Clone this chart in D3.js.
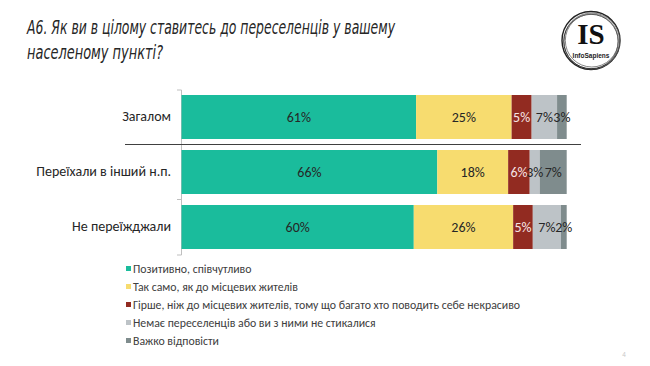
<!DOCTYPE html>
<html>
<head>
<meta charset="utf-8">
<title>A6</title>
<script src="https://d3js.org/d3.v7.min.js"></script>
<style>
  body { margin: 0; background: #fff; }
  text { font-family: Carlito, Lato, "Liberation Sans", sans-serif; }
</style>
</head>
<body>
<div id="chart"></div>
<script>
// categories (rows) and answer options
var categories = ["Загалом", "Переїхали в інший н.п.", "Не переїжджали"];
var series = [
  "Позитивно, співчутливо",
  "Так само, як до місцевих жителів",
  "Гірше, ніж до місцевих жителів, тому що багато хто поводить себе некрасиво",
  "Немає переселенців або ви з ними не стикалися",
  "Важко відповісти"
];
// shares per row (%)
var positive  = [60.9, 66.4, 60.3];
var same      = [24.8, 18.4, 25.8];
var worse     = [5.2, 5.6, 5.1];
var noContact = [6.6, 2.6, 7.3];
var hard      = [2.5, 7.0, 1.5];
var colors = ["#1abc9c", "#f7dc6f", "#922b21", "#bdc3c7", "#7f8c8d"];

var W = 650, H = 366;
var svg = d3.select("#chart").append("svg")
  .attr("width", W).attr("height", H);

// title
var title = svg.append("text")
  .style("font-family", "'DejaVu Sans Condensed', 'Liberation Sans Narrow', sans-serif")
  .style("font-style", "italic")
  .style("font-size", "19px")
  .attr("fill", "#262626");
title.append("tspan").attr("x", 27).attr("y", 34)
  .attr("textLength", 368).attr("lengthAdjust", "spacingAndGlyphs")
  .text("А6. Як ви в цілому ставитесь до переселенців у вашему");
title.append("tspan").attr("x", 27).attr("y", 59)
  .attr("textLength", 136).attr("lengthAdjust", "spacingAndGlyphs")
  .text("населеному пункті?");

// logo
var logo = svg.append("g").attr("transform", "translate(591,41)");
[29, 28, 27.2, 26.5].forEach(function(r, i) {
  logo.append("circle").attr("r", r)
    .attr("cx", (i % 2) * 0.8).attr("cy", (i % 3) * 0.5 - 0.5)
    .attr("fill", "none").attr("stroke", i % 2 ? "#666" : "#222")
    .attr("stroke-width", i === 0 ? 1.4 : 0.8);
});
logo.append("text").attr("x", 0).attr("y", 3)
  .attr("text-anchor", "middle")
  .style("font-family", "'Liberation Serif', 'DejaVu Serif', serif")
  .style("font-weight", "bold").style("font-size", "29px")
  .attr("fill", "#111").text("IS");
logo.append("text").attr("x", 0).attr("y", 17)
  .attr("text-anchor", "middle")
  .style("font-family", "'Liberation Sans', sans-serif")
  .style("font-weight", "bold").style("font-size", "6.5px")
  .attr("fill", "#222").text("InfoSapiens");

// build stacked table from the arrays
var keys = ["positive", "same", "worse", "noContact", "hard"];
var cols = [positive, same, worse, noContact, hard];
var table = categories.map(function(c, i) {
  var row = { cat: c };
  keys.forEach(function(k, j) { row[k] = cols[j][i]; });
  return row;
});
var stacked = d3.stack().keys(keys)(table);

var x = d3.scaleLinear().domain([0, 100]).range([181.5, 566.7]);
var y = d3.scaleBand().domain(categories).range([89.5, 254.5])
  .paddingInner(0.2).paddingOuter(0.1);

// axis
var axis = svg.append("g")
  .attr("transform", "translate(181,0)")
  .call(d3.axisLeft(y).tickSizeInner(0).tickSizeOuter(4).tickPadding(10));
axis.select(".domain").attr("stroke", "#bfbfbf");
axis.selectAll("text")
  .style("font-family", "Carlito, Lato, 'Liberation Sans', sans-serif")
  .style("font-size", "14px").attr("fill", "#262626");

// small tick between rows 2 and 3
var gap = y.step() * y.paddingInner() / 2;
svg.append("line")
  .attr("x1", 177).attr("x2", 181)
  .attr("y1", y(categories[2]) - gap).attr("y2", y(categories[2]) - gap)
  .attr("stroke", "#bfbfbf");

// bars
var layers = svg.selectAll("g.layer").data(stacked).enter()
  .append("g").attr("class", "layer")
  .attr("fill", function(d, i) { return colors[i]; });
layers.selectAll("rect").data(function(d) { return d; }).enter()
  .append("rect")
  .attr("x", function(d) { return x(d[0]); })
  .attr("y", function(d) { return y(d.data.cat); })
  .attr("width", function(d) { return x(d[1]) - x(d[0]); })
  .attr("height", y.bandwidth());

// value labels
stacked.forEach(function(layer, i) {
  svg.selectAll(null).data(layer).enter()
    .append("text")
    .attr("x", function(d) { return (x(d[0]) + x(d[1])) / 2; })
    .attr("y", function(d) { return y(d.data.cat) + y.bandwidth() / 2; })
    .attr("dy", "0.35em")
    .attr("text-anchor", "middle")
    .style("font-size", "14px")
    .attr("fill", i === 2 ? "#f6e4e4" : "#262626")
    .text(function(d) { return Math.round(d[1] - d[0]) + "%"; });
});

// separator line under "Загалом"
var sepY = y(categories[1]) - gap;
svg.append("line")
  .attr("x1", 125).attr("x2", 581)
  .attr("y1", sepY).attr("y2", sepY)
  .attr("stroke", "#404040").attr("stroke-width", 1);

// legend
var legend = svg.selectAll("g.legend").data(series).enter()
  .append("g").attr("class", "legend")
  .attr("transform", function(d, i) { return "translate(126," + (268.5 + i * 18) + ")"; });
legend.append("rect")
  .attr("x", 0).attr("y", -2.5).attr("width", 5).attr("height", 5)
  .attr("fill", function(d, i) { return colors[i]; });
legend.append("text")
  .attr("x", 7).attr("dy", "0.35em")
  .style("font-size", "11.8px").attr("fill", "#404040")
  .text(function(d) { return d; });

// page number
svg.append("text").attr("x", 624).attr("y", 357)
  .attr("text-anchor", "middle")
  .style("font-size", "7px").attr("fill", "#c8c8c8").text("4");
</script>
</body>
</html>
